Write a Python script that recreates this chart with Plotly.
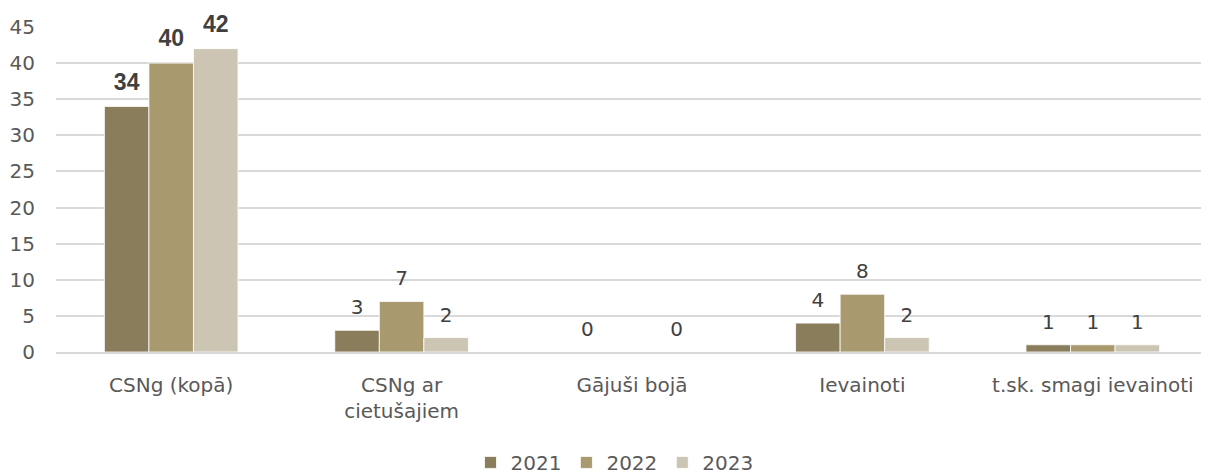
import plotly.graph_objects as go

categories = ["CSNg (kopā)", "CSNg ar<br>cietušajiem", "Gājuši bojā", "Ievainoti", "t.sk. smagi ievainoti"]
years = ["2021", "2022", "2023"]
values_2021 = [34, 3, 0, 4, 1]
values_2022 = [40, 7, None, 8, 1]
values_2023 = [42, 2, 0, 2, 1]
y_ticks = [0, 5, 10, 15, 20, 25, 30, 35, 40, 45]

colors = ["#8A7D5B", "#A89A6E", "#CDC5B3"]
FONT = "'DejaVu Sans', sans-serif"


def label_style(values):
    # first category is bold Arial in the source chart
    texts, fonts, sizes = [], [], []
    for i, v in enumerate(values):
        if v is None:
            texts.append("")
        elif i == 0:
            texts.append(f"<b>{v}</b>")
        else:
            texts.append(str(v))
        fonts.append("Liberation Sans, Arial" if i == 0 else FONT)
        sizes.append(23 if i == 0 else 20)
    return texts, fonts, sizes


fig = go.Figure()
for name, vals, col in zip(years, [values_2021, values_2022, values_2023], colors):
    fig.add_trace(go.Bar(
        x=categories,
        y=vals,
        name=name,
        marker_color=col,
        marker_line=dict(color="white", width=0.8),
        hoverinfo="skip",
    ))

# label traces grouped like the bars so they sit over each bar
for name, vals in zip(years, [values_2021, values_2022, values_2023]):
    texts, fonts, sizes = label_style(vals)
    fig.add_trace(go.Scatter(
        x=categories,
        y=vals,
        mode="markers+text",
        text=texts,
        textposition="top center",
        textfont=dict(family=fonts, size=sizes, color="#404040"),
        marker=dict(size=16, opacity=0),
        showlegend=False,
        hoverinfo="skip",
        cliponaxis=False,
    ))

# page body has an 8px margin, so the figure is 8px smaller than the window
fig.update_layout(
    width=1201,
    height=467,
    barmode="group",
    scattermode="group",
    bargap=0.42,
    bargroupgap=0,
    scattergap=0.42,
    plot_bgcolor="white",
    paper_bgcolor="white",
    font=dict(family=FONT, size=20, color="#595959"),
    margin=dict(l=48, r=1, t=19, b=123, autoexpand=False),
    legend=dict(
        orientation="h",
        xref="container",
        yref="container",
        x=0.505,
        xanchor="center",
        y=0.027,
        yanchor="middle",
        font=dict(size=20, color="#595959"),
        itemwidth=30,
        tracegroupgap=0,
    ),
)

fig.update_yaxes(
    range=[0, 45],
    tickvals=y_ticks,
    showgrid=True,
    gridcolor="#D9D9D9",
    gridwidth=1.5,
    zeroline=False,
    showline=False,
    tickfont=dict(size=20, color="#595959"),
    ticklabelstandoff=20,
)
fig.update_xaxes(
    showline=True,
    linecolor="#D9D9D9",
    linewidth=1.5,
    tickfont=dict(size=20, color="#595959"),
    ticklabelstandoff=14,
)

fig.write_html("out.html")
